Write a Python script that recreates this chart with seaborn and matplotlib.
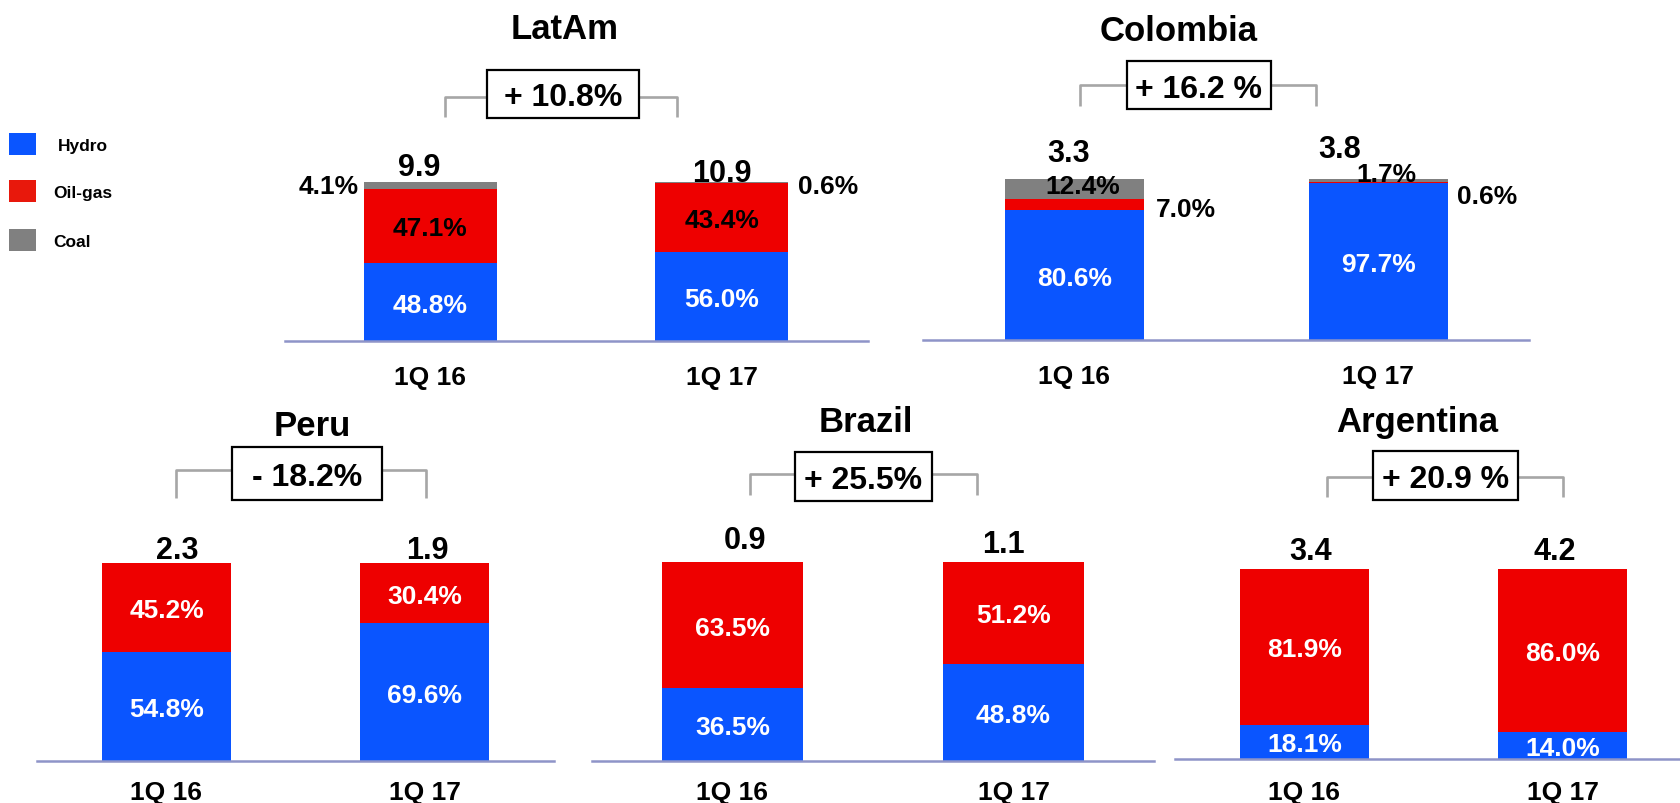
import matplotlib
matplotlib.use("Agg")
import matplotlib.pyplot as plt
from matplotlib.patches import Rectangle
from matplotlib.lines import Line2D
import pandas as pd
import seaborn as sns

# ---- data -------------------------------------------------------------
periods = ["1Q 16", "1Q 17"]
sources = ["Hydro", "Oil-gas", "Coal"]

latam_hydro = [48.8, 56.0]
latam_oil = [47.1, 43.4]
latam_coal = [4.1, 0.6]
latam_total = [9.9, 10.9]
latam_change = "+ 10.8%"

colombia_hydro = [80.6, 97.7]
colombia_oil = [7.0, 0.6]
colombia_coal = [12.4, 1.7]
colombia_total = [3.3, 3.8]
colombia_change = "+ 16.2 %"

peru_hydro = [54.8, 69.6]
peru_oil = [45.2, 30.4]
peru_coal = [0.0, 0.0]
peru_total = [2.3, 1.9]
peru_change = "- 18.2%"

brazil_hydro = [36.5, 48.8]
brazil_oil = [63.5, 51.2]
brazil_coal = [0.0, 0.0]
brazil_total = [0.9, 1.1]
brazil_change = "+ 25.5%"

argentina_hydro = [18.1, 14.0]
argentina_oil = [81.9, 86.0]
argentina_coal = [0.0, 0.0]
argentina_total = [3.4, 4.2]
argentina_change = "+ 20.9 %"

regions = ["LatAm", "Colombia", "Peru", "Brazil", "Argentina"]
shares = {
    "LatAm": (latam_hydro, latam_oil, latam_coal),
    "Colombia": (colombia_hydro, colombia_oil, colombia_coal),
    "Peru": (peru_hydro, peru_oil, peru_coal),
    "Brazil": (brazil_hydro, brazil_oil, brazil_coal),
    "Argentina": (argentina_hydro, argentina_oil, argentina_coal),
}
totals = {"LatAm": latam_total, "Colombia": colombia_total, "Peru": peru_total,
          "Brazil": brazil_total, "Argentina": argentina_total}
changes = {"LatAm": latam_change, "Colombia": colombia_change, "Peru": peru_change,
           "Brazil": brazil_change, "Argentina": argentina_change}

# ---- style ------------------------------------------------------------
HYDRO = "#0A55FF"
OIL = "#EE0000"
COAL = "#808080"
LEGEND_OIL = "#E8180C"
BASELINE = "#8E94C8"
BRACKET = "#A6A6A6"

sns.set_style("white")
plt.rcParams["font.family"] = ["Liberation Sans", "DejaVu Sans"]
plt.rcParams["font.weight"] = "bold"
plt.rcParams["text.color"] = "black"
plt.rcParams["xtick.color"] = "black"
plt.rcParams["xtick.labelcolor"] = "black"

W, H = 1681, 804


def fx(x):
    return x / W


def fy(y):
    return 1 - y / H


# panel geometry in figure pixels
layout = {
    "LatAm": dict(x0=285, x1=868, top=183, base=342, c1=430.5, c2=722.0, bw=133,
                  title=(565, 39), box=(487, 71, 639, 119), bracket=(445, 677, 98, 118),
                  tot=[(-11.5, -18), (0, -13)], pad=17),
    "Colombia": dict(x0=923, x1=1529, top=180, base=341, c1=1074.5, c2=1378.0, bw=139,
                     title=(1179, 41), box=(1127, 62, 1271, 110), bracket=(1080, 1316, 86, 107),
                     tot=[(-5.5, -30), (-38, -34)], pad=17),
    "Peru": dict(x0=37, x1=554, top=564, base=762, c1=166.5, c2=424.5, bw=129,
                 title=(312, 436), box=(232, 448, 382, 501), bracket=(176, 426, 471, 499),
                 tot=[(10.5, -16), (2.5, -16)], pad=14),
    "Brazil": dict(x0=592, x1=1154, top=563, base=762, c1=732.5, c2=1013.5, bw=141,
                   title=(866, 432), box=(795, 453, 932, 502), bracket=(750, 977, 475, 496),
                   tot=[(12.5, -25), (-10.5, -21)], pad=14),
    "Argentina": dict(x0=1175, x1=1681, top=570, base=760, c1=1304.5, c2=1562.5, bw=129,
                      title=(1417, 432), box=(1373, 452, 1518, 501), bracket=(1327, 1563, 478, 498),
                      tot=[(6.5, -22), (-7.5, -22)], pad=15),
}

# labels that sit outside or off-centre of their segment: anchor, dx, dy (px, +dy = down)
label_moves = {
    ("LatAm", 0, "Coal"): ("left", -5, 1),
    ("LatAm", 1, "Coal"): ("right", 10, 1),
    ("Colombia", 0, "Oil-gas"): ("right_mid", 12, 2),
    ("Colombia", 0, "Coal"): ("mid", 8, -5),
    ("Colombia", 1, "Coal"): ("top", 8, -7),
    ("Colombia", 1, "Oil-gas"): ("right", 9, 14),
}
dark_oil_text = {"LatAm"}

fig = plt.figure(figsize=(W / 100, H / 100), dpi=100)

for region in regions:
    L = layout[region]
    unit = L["c2"] - L["c1"]
    width = L["bw"] / unit
    ax = fig.add_axes([fx(L["x0"]), fy(L["base"]),
                       (L["x1"] - L["x0"]) / W, (L["base"] - L["top"]) / H])

    hydro, oil, coal = shares[region]
    df = pd.DataFrame({"period": periods, "Hydro": hydro, "Oil-gas": oil, "Coal": coal})
    df["upto_oil"] = df["Hydro"] + df["Oil-gas"]
    df["upto_coal"] = df["upto_oil"] + df["Coal"]

    layers = [("upto_coal", COAL), ("upto_oil", OIL), ("Hydro", HYDRO)]
    if df["Coal"].sum() == 0:
        layers = layers[1:]
    for col, color in layers:
        sns.barplot(data=df, x="period", y=col, color=color, width=width,
                    saturation=1, errorbar=None, linewidth=0, ax=ax)

    ax.set_xlim((L["x0"] - L["c1"]) / unit, (L["x1"] - L["c1"]) / unit)
    ax.set_ylim(0, 100)
    ax.set_xlabel("")
    ax.set_ylabel("")
    ax.set_yticks([])
    for side in ["top", "left", "right"]:
        ax.spines[side].set_visible(False)
    ax.spines["bottom"].set_color(BASELINE)
    ax.spines["bottom"].set_linewidth(1.8)
    ax.tick_params(axis="x", length=0, pad=L["pad"], labelsize=19, labelcolor="black")
    ax.set_facecolor("none")

    # share labels
    for i in range(len(periods)):
        bottom = 0.0
        for s, vals in zip(sources, (hydro, oil, coal)):
            v = vals[i]
            if v <= 0:
                continue
            mid = bottom + v / 2
            if s == "Hydro":
                color = "white"
            elif s == "Oil-gas":
                color = "black" if region in dark_oil_text else "white"
            else:
                color = "black"
            xy, ha, dx, dy = (i, mid), "center", 0, 0
            key = (region, i, s)
            if key in label_moves:
                anchor, dx, dy = label_moves[key]
                color = "black"
                if anchor == "left":
                    xy, ha = (i - width / 2, 100), "right"
                elif anchor == "right":
                    xy, ha = (i + width / 2, 100), "left"
                elif anchor == "right_mid":
                    xy, ha = (i + width / 2, mid), "left"
                elif anchor == "top":
                    xy = (i, 100)
            ax.annotate(f"{v:.1f}%", xy=xy, xytext=(dx, -dy), textcoords="offset pixels",
                        ha=ha, va="center_baseline", fontsize=19, color=color,
                        annotation_clip=False)
            bottom += v

    # totals above the bars
    for i, t in enumerate(totals[region]):
        dx, dy = L["tot"][i]
        ax.annotate(f"{t:.1f}", xy=(i, 100), xytext=(dx, -dy), textcoords="offset pixels",
                    ha="center", va="center_baseline", fontsize=22, color="black",
                    annotation_clip=False)

    # title
    tx, ty = L["title"]
    fig.text(fx(tx), fy(ty), region, ha="center", va="baseline", fontsize=25, color="black")

    # growth bracket and boxed label
    bl, br, byt, byb = L["bracket"]
    fig.add_artist(Line2D([fx(bl), fx(bl), fx(br), fx(br)],
                          [fy(byb), fy(byt), fy(byt), fy(byb)],
                          color=BRACKET, lw=1.9, transform=fig.transFigure, zorder=3,
                          solid_capstyle="butt"))
    x0, y0, x1, y1 = L["box"]
    fig.add_artist(Rectangle((fx(x0), fy(y1)), (x1 - x0) / W, (y1 - y0) / H,
                             transform=fig.transFigure, facecolor="white",
                             edgecolor="black", lw=1.6, zorder=4))
    fig.text(fx((x0 + x1) / 2), fy((y0 + y1) / 2), changes[region], ha="center",
             va="center_baseline", fontsize=23, zorder=5, color="black")

# legend
legend_rows = [("Hydro", HYDRO, 134, 58), ("Oil-gas", LEGEND_OIL, 181, 53), ("Coal", COAL, 230, 53)]
for name, color, y_top, x_text in legend_rows:
    fig.add_artist(Rectangle((fx(9), fy(y_top + 22)), 27 / W, 22 / H,
                             transform=fig.transFigure, facecolor=color, edgecolor="none"))
    fig.text(fx(x_text), fy(y_top + 11), name, ha="left", va="center_baseline",
             fontsize=12.5, color="black")

fig.savefig("out.png", dpi=100, facecolor="white")
